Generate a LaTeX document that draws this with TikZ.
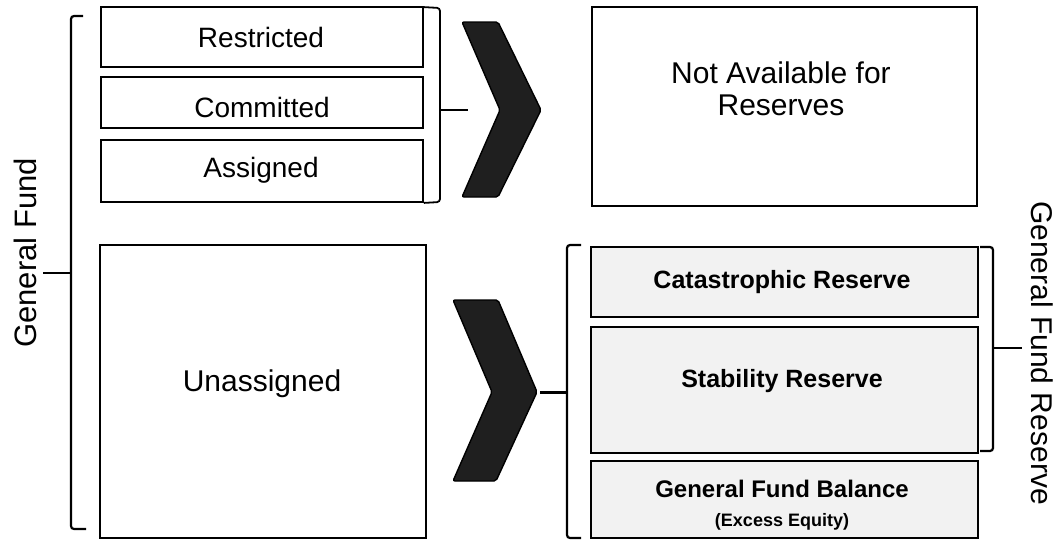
\documentclass[tikz,border=0pt]{standalone}
\usepackage{fontspec}
\setmainfont{Liberation Sans}
\newcommand\myfs[1]{\fontsize{#1}{#1}\selectfont}
\begin{document}
\begin{tikzpicture}[x=1pt,y=-1pt,
  box/.style={draw=black, line width=1.8pt, rectangle, inner sep=0pt, fill=white},
  resbox/.style={draw=black, line width=2.8pt, rectangle, inner sep=0pt, fill=black!5},
  lbl/.style={inner sep=0pt, anchor=base, text=black},
  brk/.style={draw=black, line width=2.2pt, rounded corners=3pt},
  tick/.style={draw=black, line width=2.2pt},
  chev/.style={draw=black, line width=1.4pt, fill=black!88, rounded corners=2pt}]
\useasboundingbox (0,0) rectangle (1059,542);
\fill[white] (0,0) rectangle (1059,542);

% left column boxes
\node[box, minimum width=322pt, minimum height=60pt] (res) at (262,37) {};
\node[box, minimum width=322pt, minimum height=51pt] (com) at (262,102.5) {};
\node[box, minimum width=322pt, minimum height=62pt] (ass) at (262,171) {};
\node[box, minimum width=326pt, minimum height=293pt] (una) at (263,391.5) {};
\node[lbl, font=\myfs{28}] (rest) at (261,47) {Restricted};
\node[lbl, font=\myfs{28}] (comt) at (262,117) {Committed};
\node[lbl, font=\myfs{28}] (asst) at (261,177) {Assigned};
\node[lbl, font=\myfs{30}] (unat) at (262,391) {Unassigned};

% right column boxes
\node[box, minimum width=385pt, minimum height=199pt] (na) at (784.5,106.5) {};
\node[lbl, font=\myfs{30}] (na1) at (781,83) {Not Available for};
\node[lbl, font=\myfs{30}] (na2) at (781,115) {Reserves};

\node[resbox, minimum width=387pt, minimum height=70pt] (cat) at (784.5,282) {};
\node[resbox, minimum width=387pt, minimum height=126pt] (sta) at (784.5,390) {};
\node[resbox, minimum width=387pt, minimum height=77pt] (gfb) at (784.5,499.5) {};
\node[lbl, font=\bfseries\myfs{25}] (catt) at (782,288) {Catastrophic Reserve};
\node[lbl, font=\bfseries\myfs{25}] (stat) at (782,387) {Stability Reserve};
\node[lbl, font=\bfseries\myfs{24}] (gfbt) at (782,497) {General Fund Balance};
\node[lbl, font=\bfseries\myfs{18}] (exct) at (782,526) {(Excess Equity)};

% chevrons
\draw[chev] (462,22) -- (498,22) -- (541,110) -- (498,197) -- (462,197) -- (500,110) -- cycle;
\draw[chev] (453,300) -- (498,300) -- (537,392) -- (496,481) -- (453,481) -- (492,392) -- cycle;

% left big bracket
\coordinate (lbt) at (83,16);
\coordinate (lbb) at (86,529);
\coordinate (lbm) at (71,273);
\coordinate (lbe) at (43,273);
\draw[brk] (lbt) -- (71,16) -- (71,529) -- (lbb);
\draw[tick] (lbm) -- (lbe);
\node[rotate=90, font=\myfs{31}, inner sep=0pt] (gf) at (25,253) {General Fund};

% small bracket (restricted/committed/assigned)
\coordinate (sbm) at (440,110);
\coordinate (sbe) at (468,110);
\draw[brk, line width=1.8pt] (res.north east) ++(0,1) -- (440,8) -- (440,202) -- (ass.south east);
\draw[tick, line width=1.8pt] (sbm) -- (sbe);

% reserve left bracket
\coordinate (rbm) at (567,392);
\coordinate (rbe) at (540,392);
\draw[brk] (581,245) -- (567,245) -- (567,538) -- (581,538);
\draw[tick, line width=3pt] (rbm) -- (rbe);

% right bracket (general fund reserve)
\coordinate (gbm) at (993,348);
\coordinate (gbe) at (1022,348);
\draw[brk] (980,247) -- (993,247) -- (993,451) -- (980,451);
\draw[tick] (gbm) -- (gbe);
\node[rotate=-90, font=\myfs{30}, inner sep=0pt] (gfr) at (1042,353) {General Fund Reserve};
\end{tikzpicture}
\end{document}
